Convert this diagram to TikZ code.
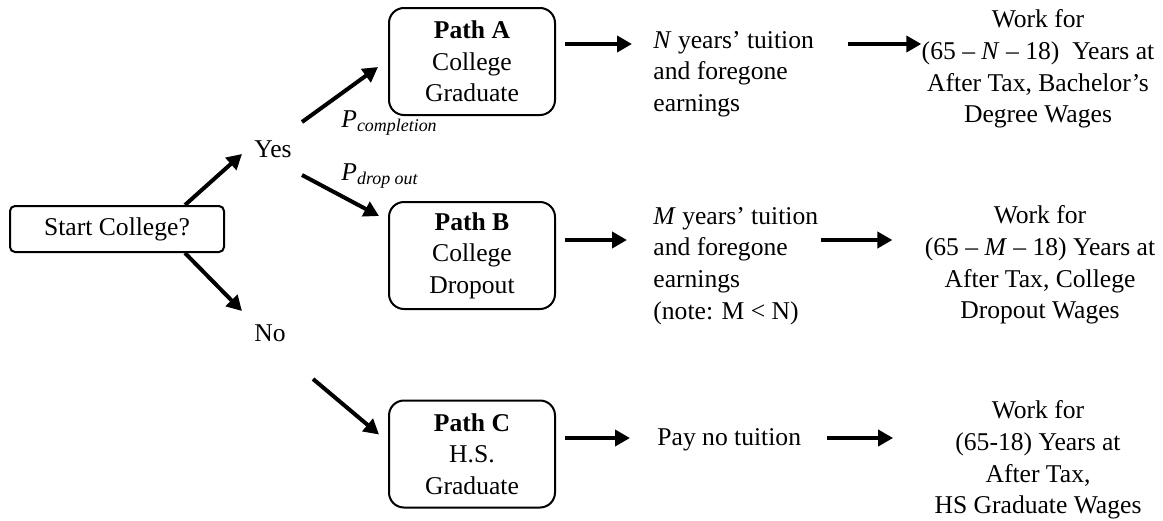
\documentclass[tikz,border=0pt]{standalone}
\usepackage{fontspec}
\setmainfont{Liberation Serif}
\usetikzlibrary{positioning}
\usetikzlibrary{arrows.meta}
\usetikzlibrary{calc}

\tikzset{
  pathbox/.style={draw, line width=1pt, rounded corners=7.5pt,
    align=center, minimum width=83pt, minimum height=53.5pt, inner sep=0pt},
  flow/.style={line width=2pt, -{Triangle[length=7.5pt,width=8pt]}},
  txt/.style={inner sep=0pt},
}

\begin{document}
\begin{tikzpicture}[x=0.5pt, y=-0.5pt,
  every node/.style={font=\fontsize{12.8pt}{15.8pt}\selectfont}]
\useasboundingbox (0,0) rectangle (1163,520);

% Decision
\node[draw, line width=1pt, rounded corners=2.5pt,
    minimum width=107pt, minimum height=23pt
    ] (start) at (117,229) {Start College?};
\node[txt] (yes) at (273,149) {Yes};
\node[txt] (no) at (270,333) {No};

% Paths
\node[pathbox] (pathA) at (472,61.5) {\textbf{Path A}\\College\\Graduate};
\node[pathbox] (pathB) at (472,255.5) {\textbf{Path B}\\College\\Dropout};
\node[pathbox] (pathC) at (472,454) {\textbf{Path C}\\H.S.\\Graduate};

% Probabilities
\node[txt, anchor=base west] (pcomp) at (341,127)
    {\textit{P}\textsubscript{\textit{completion}}};
\node[txt, anchor=base west] (pdrop) at (341,180)
    {\textit{P}\textsubscript{\textit{drop out}}};

% Costs
\node[txt, align=left, anchor=west] (costA) at (653,74)
    {\textit{N} years' tuition\\and foregone\\earnings};
\node[txt, align=left, anchor=west] (costB) at (653,266)
    {\textit{M} years' tuition\\and foregone\\earnings\\(note: M < N)};
\node[txt, anchor=west] (costC) at (657,440) {Pay no tuition};

% Wages
\node[txt, align=center] (workA) at (1038,69)
    {Work for\\(65 -- \textit{N} -- 18)\ \ Years at\\After Tax, Bachelor's\\Degree Wages};
\node[txt, align=center] (workB) at (1040,265)
    {Work for\\(65 -- \textit{M} -- 18) Years at\\After Tax, College\\Dropout Wages};
\node[txt, align=center] (workC) at (1038,460)
    {Work for\\(65-18) Years at\\After Tax,\\HS Graduate Wages};

\coordinate (rowA) at (0,44);
\coordinate (rowB) at (0,240);
\coordinate (rowC) at (0,438);

\draw[flow] ($(start.north)+(68,0)$) -- ($(yes.west)+(-12,5)$);
\draw[flow] ($(start.south)+(68,0)$) -- ($(no.west)+(-12,-22)$);

\draw[flow] ($(yes.east)+(10,-27)$) -- ($(pathA.west)+(-10,5.5)$);
\draw[flow] ($(yes.east)+(10,26)$) -- ($(pathB.north west)+(-9,15)$);
\draw[flow] ($(no.east)+(27,46)$) -- ($(pathC.north west)+(-9,35)$);

\draw[flow, shorten <=4.5pt, shorten >=10.5pt] (pathA.east |- rowA) -- (costA.west |- rowA);
\draw[flow, shorten <=4.5pt, shorten >=13pt] (pathB.east |- rowB) -- (costB.west |- rowB);
\draw[flow, shorten <=4.5pt, shorten >=13.5pt] (pathC.east |- rowC) -- (costC.west |- rowC);

\draw[flow, shorten <=17pt] (costA.east |- rowA) -- (workA.west |- rowA);
\draw[flow, shorten <=1.5pt, shorten >=16pt] (costB.east |- rowB) -- (workB.west |- rowB);
\draw[flow, shorten <=13pt, shorten >=20.5pt] (costC.east |- rowC) -- (workC.west |- rowC);
\end{tikzpicture}
\end{document}
